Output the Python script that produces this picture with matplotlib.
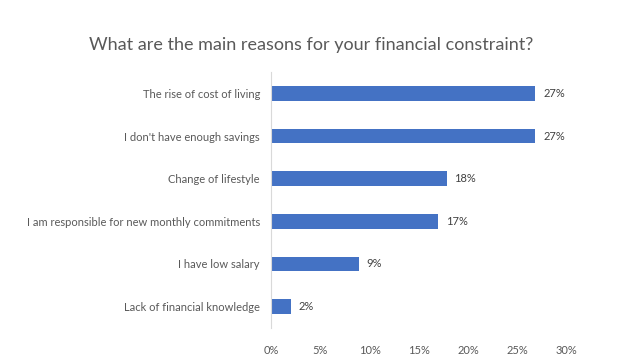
import numpy as np
import matplotlib
matplotlib.use('Agg')
import matplotlib.pyplot as plt

plt.rcParams['font.family'] = ['Lato', 'DejaVu Sans']

reasons = ['The rise of cost of living',
           "I don't have enough savings",
           'Change of lifestyle',
           'I am responsible for new monthly commitments',
           'I have low salary',
           'Lack of financial knowledge']
shares = [26.8, 26.8, 17.8, 16.9, 8.9, 2.0]
x_ticks = [0, 5, 10, 15, 20, 25, 30]

fig = plt.figure(figsize=(6.23, 3.62), dpi=100)
ax = fig.add_axes([0.435, 0.094, 0.475, 0.707])

y = np.arange(len(reasons))[::-1]
bars = ax.barh(y, shares, height=0.35, color='#4472C4')

for b, v in zip(bars, shares):
    ax.text(b.get_width() + 0.8, b.get_y() + b.get_height() / 2, f'{v:.0f}%',
            va='center', ha='left', fontsize=8, color='#404040')

ax.set_xlim(0, 30)
ax.set_ylim(-0.5, len(reasons) - 0.5)
ax.set_xticks(x_ticks)
ax.set_xticklabels([f'{t}%' for t in x_ticks])
ax.set_yticks(y)
ax.set_yticklabels(reasons)
ax.tick_params(axis='both', length=0, labelsize=8, colors='#595959')
ax.tick_params(axis='y', pad=8)
ax.tick_params(axis='x', pad=12)

for side in ['top', 'right', 'bottom']:
    ax.spines[side].set_visible(False)
ax.spines['left'].set_color('#D9D9D9')

fig.text(0.5, 0.875, 'What are the main reasons for your financial constraint?',
         ha='center', va='center', fontsize=13, color='#595959')

fig.savefig('out.png', dpi=100)
